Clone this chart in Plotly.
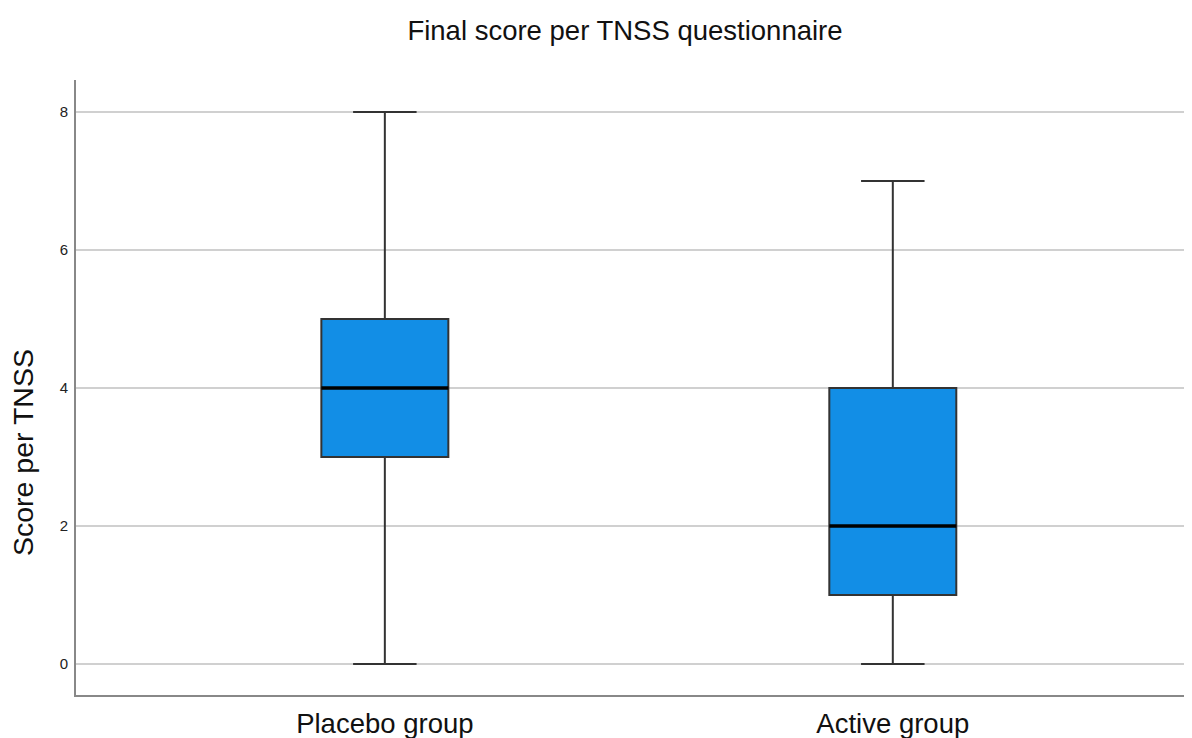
import plotly.graph_objects as go

categories = ["Placebo group", "Active group"]
positions = [0, 1]
lower_fence = [0, 0]
q1 = [3, 1]
median = [4, 2]
q3 = [5, 4]
upper_fence = [8, 7]
y_ticks = [0, 2, 4, 6, 8]

box_width = 0.25
fig = go.Figure()
fig.add_trace(go.Box(
    x=positions, q1=q1, median=median, q3=q3,
    lowerfence=lower_fence, upperfence=upper_fence,
    width=box_width, whiskerwidth=0.5,
    fillcolor="#128EE6",
    line=dict(color="#333333", width=2),
    boxpoints=False, showlegend=False, hoverinfo="skip",
))
# thicker black median lines
mx, my = [], []
for p, m in zip(positions, median):
    mx += [p - box_width / 2, p + box_width / 2, None]
    my += [m, m, None]
fig.add_trace(go.Scatter(x=mx, y=my, mode="lines",
                         line=dict(color="black", width=3.5),
                         showlegend=False, hoverinfo="skip"))

font = "Liberation Sans, Arial, sans-serif"
fig.update_layout(
    width=1192, height=738,
    paper_bgcolor="white", plot_bgcolor="white",
    margin=dict(l=68, r=8, t=72, b=51),
    font=dict(family=font, color="#111111"),
    title=dict(text="Final score per TNSS questionnaire", x=0.5176, xanchor="center",
               y=0.970, yanchor="middle", font=dict(size=27.5, color="#111111")),
    xaxis=dict(range=[-0.608, 1.589], tickvals=positions, ticktext=categories,
               showgrid=False, zeroline=False, showline=True, linecolor="#888888",
               linewidth=2, ticks="", ticklabelstandoff=3,
               tickfont=dict(size=27.5, color="#111111")),
    yaxis=dict(range=[-0.449, 8.464], tickvals=y_ticks, showgrid=True,
               gridcolor="#d0d0d0", gridwidth=1.5, zeroline=False, showline=True,
               linecolor="#888888", linewidth=2, ticks="",
               ticklabelstandoff=3,
               tickfont=dict(size=15, color="#222222")),
    annotations=[dict(text="Score per TNSS", textangle=-90, xref="paper", yref="paper",
                      x=-0.0475, y=0.395, xanchor="center", yanchor="middle",
                      showarrow=False, font=dict(size=28.5, color="#111111"))],
)
fig.write_html("out.html")
